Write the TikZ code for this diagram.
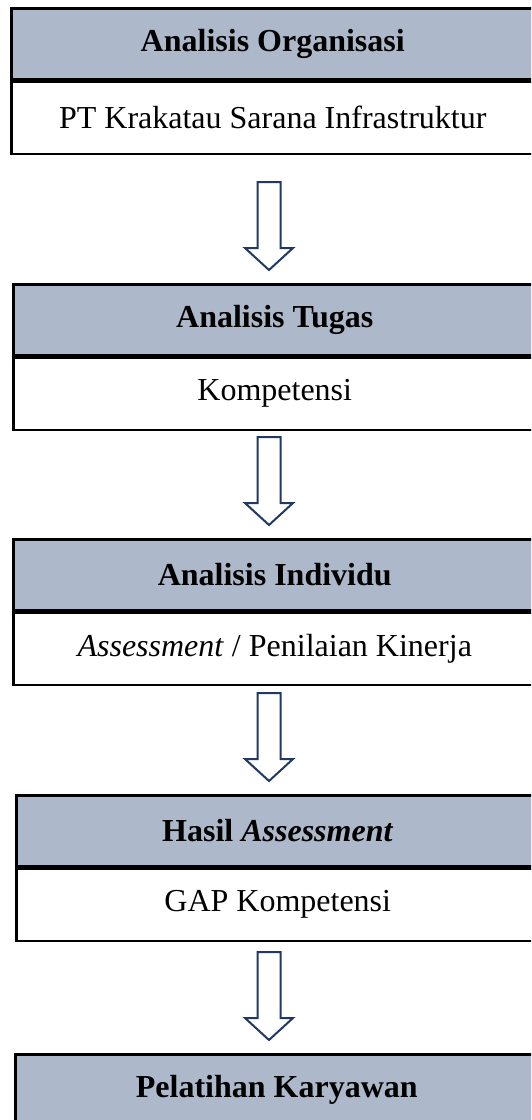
\documentclass[tikz,border=0pt]{standalone}
\usepackage{fontspec}
\setmainfont{Liberation Serif}
\usetikzlibrary{calc}
\definecolor{headfill}{RGB}{173,185,202}
\definecolor{arrowline}{RGB}{31,56,100}
% block arrow that points down onto a header box
\newcommand\flowarrow[1]{%
  \draw[blockarrow] ($(ax |- #1.north)+(-11.5,-101)$) -- ++(23,0) -- ++(0,66) -- ++(12.5,0)
    -- ++(-24,22) -- ++(-24,-22) -- ++(12.5,0) -- cycle;}
\begin{document}
\begin{tikzpicture}[x=1pt,y=-1pt,
    head/.style={draw,line width=2.5pt,fill=headfill,anchor=north west,minimum width=523pt,
      minimum height=71pt,inner sep=0pt,font=\fontsize{32}{38}\selectfont\bfseries},
    body/.style={draw,line width=2.5pt,fill=white,anchor=north west,minimum width=523pt,
      minimum height=72pt,inner sep=0pt,font=\fontsize{32}{38}\selectfont},
    blockarrow/.style={draw=arrowline,line width=2pt,fill=white,line join=miter}]
    \clip (0,0) rectangle (531,1120);
    \coordinate (ax) at (269,0);

    \node[head](h1) at (10, 7) {Analisis Organisasi};
    \node[body](b1) at (h1.south west) {PT Krakatau Sarana Infrastruktur};

    \node[head](h2) at (12, 283) {Analisis Tugas};
    \node[body](b2) at (h2.south west) {Kompetensi};

    \node[head](h3) at (12, 538) {Analisis Individu};
    \node[body](b3) at (h3.south west) {\textit{Assessment} / Penilaian Kinerja};

    \node[head](h4) at (15, 794) {Hasil \textit{Assessment}};
    \node[body](b4) at (h4.south west) {GAP Kompetensi};

    \node[head](h5) at (14, 1053) {Pelatihan Karyawan};

    \flowarrow{h2}
    \flowarrow{h3}
    \flowarrow{h4}
    \flowarrow{h5}
\end{tikzpicture}
\end{document}
